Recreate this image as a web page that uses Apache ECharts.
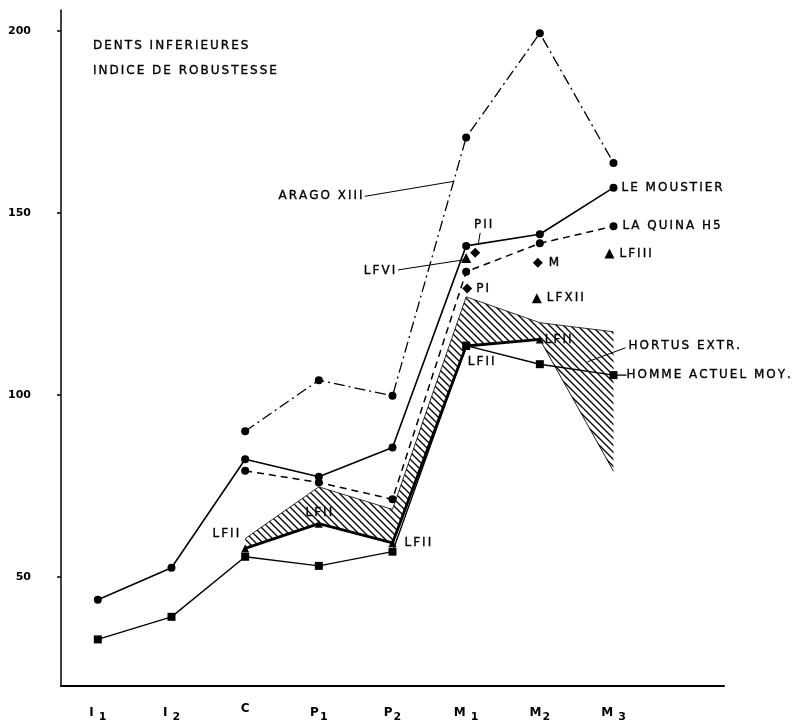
<!DOCTYPE html>
<html><head><meta charset="utf-8">
<script src="https://cdn.jsdelivr.net/npm/echarts@6/dist/echarts.min.js"></script>
<style>html,body{margin:0;padding:0;background:#fff}#c{width:799px;height:725px}</style>
</head><body><div id="c"></div>
<script>
// ---------- data ----------
const categories = ['I1', 'I2', 'C', 'P1', 'P2', 'M1', 'M2', 'M3', ''];
const yTickValues = [50, 100, 150, 200];
const leMoustier     = [43.7, 52.5, 82.3, 77.5, 85.5, 140.9, 144.1, 156.9, null];
const aragoXIII      = [null, null, 90.0, 104.0, 99.7, 170.7, 199.3, 163.7, null];
const laQuinaH5      = [null, null, 79.1, 75.9, 71.3, 133.8, 141.6, 146.3, null];
const hommeActuelMoy = [32.8, 39.0, 55.5, 53.0, 56.9, 113.5, 108.4, 105.4, null];
const lfII           = [null, null, 57.8, 64.6, 59.3, 113.4, 115.2, null, null];
const hortusMax      = [null, null, 60.5, 74.7, 68.5, 126.9, 119.8, 117.3, null];
const hortusMin      = [null, null, 57.8, 64.6, 59.3, 113.4, 115.2, 79.0, null];
const specimenNames  = ['PII', 'LFVI', 'PI', 'M', 'LFXII', 'LFIII'];
const specimenTeeth  = ['M1', 'M1', 'M1', 'M2', 'M2', 'M3'];
const specimenValues = [139.0, 137.6, 129.2, 136.3, 126.5, 138.8];
const titleLines = ['DENTS INFERIEURES', 'INDICE DE ROBUSTESSE'];

// ---------- styles ----------
const FONT = 'DejaVu Sans';
const sp = (s) => s.split('').join('\u2006');   // wide tracking like the original lettering
const specimenStyle = {
  PII:   {symbol: 'diamond',  size: 10, offset: [9, 0],  label: null},
  LFVI:  {symbol: 'triangle', size: 10, offset: [0, 0],  label: null},
  PI:    {symbol: 'diamond',  size: 10, offset: [1, 0],  label: {position: 'right', distance: 4}},
  M:     {symbol: 'diamond',  size: 10, offset: [-2, 0], label: {position: 'right', distance: 6}},
  LFXII: {symbol: 'triangle', size: 10, offset: [-3, 0], label: {position: 'right', distance: 5}},
  LFIII: {symbol: 'triangle', size: 10, offset: [-4, 0], label: {position: 'right', distance: 5}}
};
const lfIILabelStyle = {
  2: {position: 'left', offset: [3, -15]},
  3: {position: 'top', distance: 1},
  4: {position: 'right', distance: 8},
  5: {position: 'bottom', offset: [15, 1]},
  6: {position: 'right', distance: 1}
};

function hatchPattern() {
  const s = 7, c = document.createElement('canvas');
  c.width = c.height = s;
  const g = c.getContext('2d');
  g.strokeStyle = '#000'; g.lineWidth = 1.35;
  g.beginPath();
  g.moveTo(0, 0); g.lineTo(s, s);
  g.moveTo(-1, s - 1); g.lineTo(1, s + 1);
  g.moveTo(s - 1, -1); g.lineTo(s + 1, 1);
  g.stroke();
  return c;
}

const chart = echarts.init(document.getElementById('c'), null, {renderer: 'canvas'});
const txt = {fontFamily: FONT, fontSize: 12, color: '#000', textBorderColor: '#000', textBorderWidth: 0.35};
const FONTSTR = '12px "' + FONT + '"';
const gTxt = (text, align) => ({text: sp(text), align: align, verticalAlign: 'middle', fill: '#000', font: FONTSTR, stroke: '#000', lineWidth: 0.35});

const hortusDiff = hortusMax.map((v, i) => (v == null || hortusMin[i] == null) ? null : +(v - hortusMin[i]).toFixed(2));

const lfIIData = lfII.map((v, i) => {
  if (v == null) return null;
  const ls = lfIILabelStyle[i];
  return ls ? {value: v, label: Object.assign({show: true, formatter: sp('LFII')}, txt, ls)} : v;
});

const specimenSeries = specimenNames.map((name, i) => {
  const st = specimenStyle[name];
  return {
    type: 'scatter', name: name, z: 6,
    symbol: st.symbol, symbolSize: st.size, symbolOffset: st.offset,
    itemStyle: {color: '#000', opacity: 1},
    label: st.label ? Object.assign({show: true, formatter: sp(name)}, txt, st.label) : {show: false},
    data: [[specimenTeeth[i], specimenValues[i]]]
  };
});

const xSub = {I1: ['I', '1', true], I2: ['I', '2', true], C: ['C', '', false], P1: ['P', '1', false], P2: ['P', '2', false], M1: ['M', '1', true], M2: ['M', '2', false], M3: ['M', '3', true]};

const option = {
  animation: false,
  backgroundColor: '#fff',
  title: {
    text: titleLines.map(sp).join('\n'), left: 88, top: 28,
    textStyle: {fontFamily: FONT, fontSize: 12, fontWeight: 'normal', color: '#000', lineHeight: 25, textBorderColor: '#000', textBorderWidth: 0.35}
  },
  grid: {left: 61, right: 75, top: 10, bottom: 39},
  xAxis: {
    type: 'category', data: categories, boundaryGap: true,
    axisLine: {lineStyle: {color: '#000', width: 2}},
    axisTick: {alignWithLabel: true, length: 4, interval: (i) => i < 8, lineStyle: {color: '#000', width: 1.5}},
    axisLabel: {
      margin: 17, interval: 0,
      formatter: (v) => {
        const d = xSub[v]; if (!d) return '';
        return '{m|' + d[0] + '}' + (d[1] ? '{' + (d[2] ? 'sw' : 's') + '|' + d[1] + '}' : '');
      },
      rich: {
        m: {fontFamily: FONT, fontSize: 12, color: '#000', fontWeight: 'bold'},
        s: {fontFamily: FONT, fontSize: 11, color: '#000', fontWeight: 'bold', padding: [9, 0, 0, 1]},
        sw: {fontFamily: FONT, fontSize: 11, color: '#000', fontWeight: 'bold', padding: [9, 0, 0, 5]}
      }
    },
    splitLine: {show: false}
  },
  yAxis: {
    type: 'value', min: 20, max: 205.7,
    axisLine: {show: true, lineStyle: {color: '#000', width: 1.5}},
    axisTick: {show: true, length: 4, customValues: yTickValues, lineStyle: {color: '#000', width: 1.5}},
    axisLabel: {customValues: yTickValues, margin: 30, fontFamily: FONT, fontSize: 11, color: '#000', fontWeight: 'bold'},
    splitLine: {show: false}
  },
  series: [
    {
      name: 'hortusLow', type: 'line', stack: 'hortus', data: hortusMin, z: 1,
      symbol: 'none', lineStyle: {color: '#000', width: 0.9}, connectNulls: false
    },
    {
      name: 'HORTUS EXTR.', type: 'line', stack: 'hortus', data: hortusDiff, z: 1,
      symbol: 'none', lineStyle: {color: '#000', width: 0.8},
      areaStyle: {color: {image: hatchPattern(), repeat: 'repeat'}, opacity: 1, origin: 'auto'}
    },
    {
      name: 'ARAGO XIII', type: 'line', data: aragoXIII, z: 3,
      symbol: 'circle', symbolSize: 8, itemStyle: {color: '#000'},
      lineStyle: {color: '#000', width: 1.3, type: [11, 4, 2, 4]}
    },
    {
      name: 'LA QUINA H5', type: 'line', data: laQuinaH5, z: 3,
      symbol: 'circle', symbolSize: 8, itemStyle: {color: '#000'},
      lineStyle: {color: '#000', width: 1.5, type: [7, 5]},
      endLabel: Object.assign({show: true, formatter: sp('LA QUINA H5'), distance: 9}, txt)
    },
    {
      name: 'LE MOUSTIER', type: 'line', data: leMoustier, z: 4,
      symbol: 'circle', symbolSize: 8, itemStyle: {color: '#000'},
      lineStyle: {color: '#000', width: 1.6},
      endLabel: Object.assign({show: true, formatter: sp('LE MOUSTIER'), distance: 8}, txt)
    },
    {
      name: 'HOMME ACTUEL MOY.', type: 'line', data: hommeActuelMoy, z: 4,
      symbol: 'rect', symbolSize: 8, itemStyle: {color: '#000'},
      lineStyle: {color: '#000', width: 1.4},
      endLabel: Object.assign({show: true, formatter: sp('HOMME ACTUEL MOY.'), distance: 13}, txt)
    },
    {
      name: 'LFII', type: 'line', data: lfIIData, z: 5,
      symbol: 'triangle', symbolSize: 8, itemStyle: {color: '#000'},
      lineStyle: {color: '#000', width: 2.8}
    }
  ].concat(specimenSeries)
};
chart.setOption(option);

// ---------- annotations anchored on data ----------
const px = (cat, v) => chart.convertToPixel({xAxisIndex: 0, yAxisIndex: 0}, [cat, v]);
const g = [];
(function () {
  const a = px('P2', aragoXIII[4]), b = px('M1', aragoXIII[5]);
  const t = 0.83, p = [a[0] + (b[0] - a[0]) * t, a[1] + (b[1] - a[1]) * t];
  g.push({type: 'line', shape: {x1: p[0] - 89, y1: p[1] + 15, x2: p[0], y2: p[1]}, style: {stroke: '#000', lineWidth: 1}});
  g.push({type: 'text', x: p[0] - 91, y: p[1] + 15, style: gTxt('ARAGO XIII', 'right')});
})();
(function () {
  const p = px('M1', specimenValues[1]);
  g.push({type: 'line', shape: {x1: p[0] - 68, y1: p[1] + 12, x2: p[0] - 3, y2: p[1] + 2}, style: {stroke: '#000', lineWidth: 1}});
  g.push({type: 'text', x: p[0] - 71, y: p[1] + 13, style: gTxt('LFVI', 'right')});
})();
(function () {
  const p = px('M1', specimenValues[0]);
  g.push({type: 'line', shape: {x1: p[0] + 14, y1: p[1] - 20, x2: p[0] + 12, y2: p[1] - 8}, style: {stroke: '#000', lineWidth: 1}});
  g.push({type: 'text', x: p[0] + 17, y: p[1] - 28, style: gTxt('PII', 'center')});
})();
(function () {
  const p = px('M3', hortusMax[7]);
  g.push({type: 'line', shape: {x1: p[0] + 12, y1: p[1] + 16, x2: p[0] - 26, y2: p[1] + 30}, style: {stroke: '#000', lineWidth: 1}});
  g.push({type: 'text', x: p[0] + 15, y: p[1] + 14, style: gTxt('HORTUS EXTR.', 'left')});
})();
(function () {
  const p = px('M3', hommeActuelMoy[7]);
  g.push({type: 'line', shape: {x1: p[0] + 3, y1: p[1], x2: p[0] + 13, y2: p[1]}, style: {stroke: '#000', lineWidth: 1.3}});
})();
chart.setOption({graphic: g});
</script>
</body></html>
